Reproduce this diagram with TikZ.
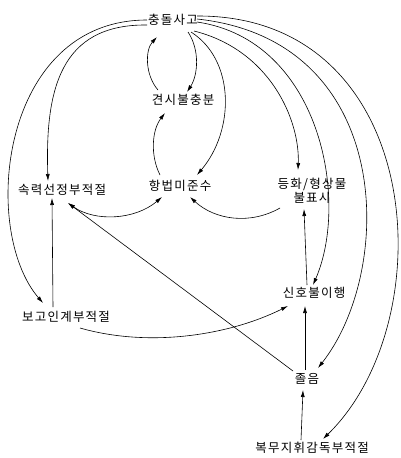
\documentclass[tikz,border=0pt]{standalone}
\usepackage{fontspec}
\newfontfamily\kr[LetterSpace=10]{Noto Sans CJK KR}
\usetikzlibrary{arrows.meta}
\begin{document}
\begin{tikzpicture}[x=1pt,y=-1pt,
  lbl/.style={font=\kr\fontsize{12.5}{14}\selectfont, inner sep=1pt, align=center},
  conn/.style={line width=0.6pt, -{Latex[length=7pt,width=4pt]}},
  bconn/.style={line width=0.6pt, {Latex[length=7pt,width=4pt]}-{Latex[length=7pt,width=4pt]}}]
\useasboundingbox (0,0) rectangle (401,458);
\node[lbl] (A) at (173,20) {충돌사고};
\node[lbl] (B) at (183,100) {견시불충분};
\node[lbl] (C) at (62,190) {속력선정부적절};
\node[lbl] (D) at (180,186) {항법미준수};
\node[lbl] (E) at (312,191) {등화/형상물\\불표시};
\node[lbl] (F) at (66,317) {보고인계부적절};
\node[lbl] (G) at (314,293) {신호불이행};
\node[lbl] (H) at (307,379) {졸음};
\node[lbl] (I) at (312,448) {복무지휘감독부적절};
% from A
\draw[conn] ([shift={(15,12)}]A.center) .. controls (200,50) and (198,75) .. ([shift={(4,-8)}]B.center);
\draw[conn] ([shift={(-25,-10)}]B.center) .. controls (145,75) and (145,50) .. ([shift={(-16,17)}]A.center);
\draw[conn] ([shift={(-26,0)}]A.center) .. controls (0,20) and (-20,230) .. ([shift={(-23,-14)}]F.center);
\draw[conn] ([shift={(-26,5)}]A.center) .. controls (60,24) and (45,90) .. ([shift={(-14,-9)}]C.center);
\draw[conn] ([shift={(18,12)}]A.center) .. controls (235,60) and (235,130) .. ([shift={(17,-11)}]D.center);
\draw[conn] ([shift={(21,11)}]A.center) .. controls (270,50) and (300,120) .. ([shift={(-14,-21)}]E.center);
\draw[conn] ([shift={(24,2)}]A.center) .. controls (320,40) and (350,200) .. ([shift={(-1,-8)}]G.center);
\draw[conn] ([shift={(24,-1)}]A.center) .. controls (395,40) and (395,270) .. ([shift={(11,-11)}]H.center);
\draw[conn] ([shift={(24,-4)}]A.center) .. controls (425,15) and (445,320) .. ([shift={(11,-9)}]I.center);
% others
\draw[conn] ([shift={(-20,-11)}]D.center) .. controls (150,155) and (152,130) .. ([shift={(-18,13)}]B.center);
\draw[bconn] ([shift={(6,13)}]C.center) .. controls (95,222) and (135,220) .. ([shift={(-18,11)}]D.center);
\draw[conn] ([shift={(-32,17)}]E.center) .. controls (250,225) and (215,220) .. ([shift={(10,11)}]D.center);
\draw[conn] ([shift={(-13,-10)}]F.center) -- ([shift={(-10,8)}]C.center);
\draw[conn] ([shift={(14,11)}]F.center) .. controls (150,348) and (230,335) .. ([shift={(-26,13)}]G.center);
\draw[conn] ([shift={(-14,-8)}]H.center) -- ([shift={(6,13)}]C.center);
\draw[conn] ([shift={(-7,-8)}]G.center) -- ([shift={(-8,18)}]E.center);
\draw[conn] ([shift={(-2,-9)}]H.center) -- ([shift={(-9,13)}]G.center);
\draw[conn] ([shift={(-11,-8)}]I.center) -- ([shift={(-4,11)}]H.center);
\end{tikzpicture}
\end{document}
